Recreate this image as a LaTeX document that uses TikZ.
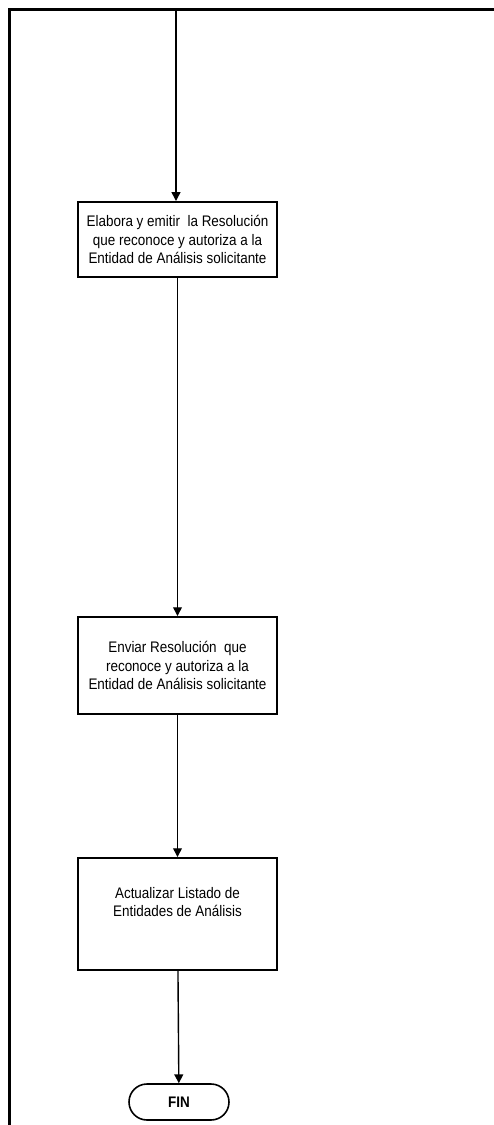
\documentclass[tikz,border=0pt]{standalone}
\usepackage{fontspec}
\setmainfont{Liberation Sans}[FakeStretch=0.88]
\usetikzlibrary{arrows.meta}

\tikzset{
  paso/.style={draw, line width=1.1pt, minimum width=3.98cm, align=center,
    font=\fontsize{8.7}{10.5}\selectfont},
  fin/.style={draw, line width=0.9pt, rounded corners=0.36cm, minimum width=2cm,
    minimum height=0.72cm, font=\fontsize{8.7}{10.5}\selectfont\bfseries},
  flecha/.style={line width=0.8pt, -{Triangle[length=5pt,width=5pt]}},
  marco/.style={line width=1.4pt}
}

\begin{document}
\begin{tikzpicture}
\useasboundingbox (0,0) rectangle (9.86,-22.5);
\draw[marco] (0.19,-23) -- (0.19,-0.19) -- (10.5,-0.19);

\coordinate (arriba) at (3.52,-0.2);
\node[paso, minimum height=1.5cm] (elabora) at (3.55,-4.79)
  {Elabora y emitir \ la Resolución\\que reconoce y autoriza a la\\Entidad de Análisis solicitante};
\node[paso, minimum height=1.94cm] (enviar) at (3.55,-13.31)
  {Enviar Resolución \ que\\reconoce y autoriza a la\\Entidad de Análisis solicitante};
\node[paso, minimum height=2.24cm] (actualizar) at (3.55,-18.28)
  {Actualizar Listado de\\Entidades de Análisis\\ \strut};
\node[fin] (final) at (3.58,-22.04) {FIN};

\draw[flecha] (arriba) -- (arriba |- elabora.north);
\draw[flecha] (elabora) -- (enviar);
\draw[flecha] (enviar) -- (actualizar);
\draw[flecha] (actualizar) -- (final);
\end{tikzpicture}
\end{document}
